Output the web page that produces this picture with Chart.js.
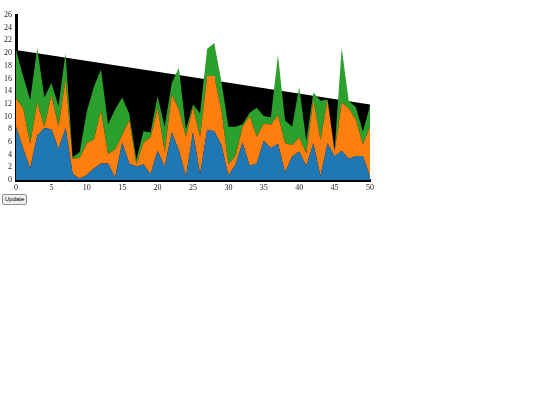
<!DOCTYPE html>
<html>
<head>
<meta charset="utf-8">
<script src="https://cdn.jsdelivr.net/npm/chart.js@4.4.1/dist/chart.umd.min.js"></script>
<style>
  html, body { margin: 0; padding: 0; background: #fff; }
  #wrap { position: absolute; left: 0; top: 0; width: 400px; height: 200px; }
  #btn { position: absolute; left: 2px; top: 194px; font: 6px "Liberation Sans", Arial, sans-serif;
         padding: 1px 2px; border: 1px solid #8f8f8f; border-radius: 2px; background: #efefef; color: #000; line-height: 7px; }
</style>
</head>
<body>
<div id="wrap"><canvas id="c" width="400" height="200"></canvas></div>
<button id="btn">Update</button>
<script>
const categories = [0,1,2,3,4,5,6,7,8,9,10,11,12,13,14,15,16,17,18,19,20,21,22,23,24,25,26,27,28,29,30,31,32,33,34,35,36,37,38,39,40,41,42,43,44,45,46,47,48,49,50];
const series1 = [8.4,5.0,1.8,7.0,8.2,8.0,4.9,8.2,1.0,0.2,0.8,1.8,2.6,2.6,0.4,5.9,2.6,2.1,2.5,0.9,4.6,2.1,7.5,4.7,0.5,7.5,0.9,7.9,7.7,5.5,0.7,2.4,5.9,2.2,2.6,6.2,5.0,5.7,1.2,3.7,4.5,2.2,5.8,0.6,5.8,3.7,4.6,3.3,3.8,3.8,0.5];
const series2 = [4.5,6.3,3.9,5.2,0.2,5.4,3.5,7.6,2.3,3.3,5.0,4.6,8.3,1.5,4.4,1.2,6.9,0.3,3.4,5.8,6.7,2.4,6.0,6.4,6.3,4.0,5.9,8.5,8.7,5.6,1.8,1.4,2.5,7.9,4.2,2.7,3.7,4.6,4.6,1.8,2.2,2.0,6.8,5.7,6.8,0.8,7.6,8.0,5.7,1.8,7.9];
const series3 = [7.6,5.1,6.9,8.6,4.6,1.9,3.3,4.2,0.3,0.9,5.0,8.3,6.5,4.7,6.3,5.9,0.9,0.8,1.8,0.8,1.9,3.9,1.8,6.6,1.2,0.4,3.7,4.3,5.2,4.5,5.9,4.6,0.4,0.5,4.6,1.2,1.2,9.4,3.6,2.9,7.9,1.9,1.2,6.2,0.1,0.2,8.6,1.1,2.0,2.0,3.3];
const trendX = [0, 50];
const trendY = [20.5, 11.9];
const xTicks = [0,5,10,15,20,25,30,35,40,45,50];
const yTicks = [0,2,4,6,8,10,12,14,16,18,20,22,24,26];

const pts = (arr) => categories.map((x, i) => ({ x: x, y: arr[i] }));
const common = { pointRadius: 0, borderWidth: 0, tension: 0, stack: 'a' };

new Chart(document.getElementById('c'), {
  type: 'line',
  data: {
    datasets: [
      Object.assign({ label: 's1', data: pts(series1), backgroundColor: '#1f77b4', borderColor: '#1f77b4', fill: 'origin' }, common),
      Object.assign({ label: 's2', data: pts(series2), backgroundColor: '#ff7f0e', borderColor: '#ff7f0e', fill: '-1' }, common),
      Object.assign({ label: 's3', data: pts(series3), backgroundColor: '#2ca02c', borderColor: '#2ca02c', fill: '-1' }, common),
      { label: 'trend', data: trendX.map((x, i) => ({ x: x, y: trendY[i] })), backgroundColor: '#000', borderColor: '#000',
        borderWidth: 0, pointRadius: 0, fill: 'origin', stack: 'b', order: 5 }
    ]
  },
  options: {
    responsive: false,
    animation: false,
    devicePixelRatio: 1,
    layout: { padding: { top: 15, right: 30, left: 0, bottom: 0 } },
    plugins: { legend: { display: false }, tooltip: { enabled: false } },
    scales: {
      x: {
        type: 'linear', min: 0, max: 50,
        grid: { display: false, drawTicks: false },
        border: { display: true, color: '#000', width: 3 },
        afterFit: (s) => { s.height = 20; },
        afterBuildTicks: (s) => { s.ticks = xTicks.map(v => ({ value: v })); },
        ticks: { padding: 3, color: '#222', font: { family: '"Liberation Serif", serif', size: 8 }, maxRotation: 0 }
      },
      y: {
        type: 'linear', min: 0, max: 26, stacked: true,
        grid: { display: false, drawTicks: false },
        border: { display: true, color: '#000', width: 3 },
        afterFit: (s) => { s.width = 16; },
        afterBuildTicks: (s) => { s.ticks = yTicks.map(v => ({ value: v })); },
        ticks: { padding: 4, color: '#222', font: { family: '"Liberation Serif", serif', size: 8 } }
      }
    }
  }
});
</script>
</body>
</html>
